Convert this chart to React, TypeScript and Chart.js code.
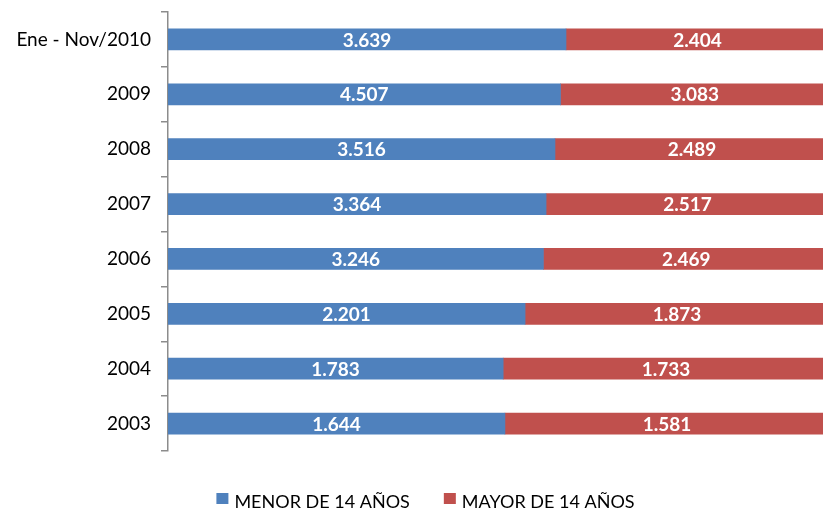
import React, { useEffect, useRef } from "react";
import { Chart, registerables } from "chart.js";

Chart.register(...registerables);

const categories = ["Ene - Nov/2010", "2009", "2008", "2007", "2006", "2005", "2004", "2003"];
const menor14 = [3639, 4507, 3516, 3364, 3246, 2201, 1783, 1644];
const mayor14 = [2404, 3083, 2489, 2517, 2469, 1873, 1733, 1581];
const seriesNames = ["MENOR DE 14 AÑOS", "MAYOR DE 14 AÑOS"];
const seriesColors = ["#4F81BD", "#C0504D"];

const FONT = "Lato, 'Open Sans', sans-serif";

const fmt = (v: number) => {
  const s = String(Math.round(v));
  return s.replace(/\B(?=(\d{3})+(?!\d))/g, ".");
};

const valueLabels = {
  id: "valueLabels",
  afterDatasetsDraw(chart: any) {
    const ctx = chart.ctx;
    ctx.save();
    ctx.fillStyle = "#ffffff";
    ctx.font = `bold 19px ${FONT}`;
    ctx.textAlign = "center";
    ctx.textBaseline = "middle";
    chart.data.datasets.forEach((ds: any, di: number) => {
      const meta = chart.getDatasetMeta(di);
      meta.data.forEach((el: any, i: number) => {
        const cx = (el.x + el.base) / 2;
        ctx.fillText(fmt(ds.raw[i]), cx, el.y + 1);
      });
    });
    ctx.restore();
  },
};

const customLegend = {
  id: "customLegend",
  afterDraw(chart: any) {
    const ctx = chart.ctx;
    ctx.save();
    ctx.font = `18px ${FONT}`;
    ctx.textBaseline = "alphabetic";
    ctx.textAlign = "left";
    const box = 12;
    const gapBoxText = 6;
    const gapItems = 34;
    const widths = seriesNames.map((n) => ctx.measureText(n).width);
    const total =
      widths.reduce((a, w) => a + box + gapBoxText + w, 0) + gapItems * (seriesNames.length - 1);
    let x = (chart.width - total) / 2 + 14;
    seriesNames.forEach((n, i) => {
      ctx.fillStyle = seriesColors[i];
      ctx.fillRect(x, 493, box, box - 1);
      ctx.fillStyle = "#000000";
      ctx.fillText(n, x + box + gapBoxText, 508);
      x += box + gapBoxText + widths[i] + gapItems;
    });
    ctx.restore();
  },
};

export default function App() {
  const ref = useRef<HTMLCanvasElement | null>(null);
  useEffect(() => {
    document.body.style.margin = "0";
    const totals = menor14.map((v, i) => v + mayor14[i]);
    const chart = new Chart(ref.current as HTMLCanvasElement, {
      type: "bar",
      data: {
        labels: categories,
        datasets: [
          {
            label: seriesNames[0],
            data: menor14.map((v, i) => v / totals[i]),
            raw: menor14,
            backgroundColor: seriesColors[0],
            barThickness: 21,
          } as any,
          {
            label: seriesNames[1],
            data: mayor14.map((v, i) => v / totals[i]),
            raw: mayor14,
            backgroundColor: seriesColors[1],
            barThickness: 21,
          } as any,
        ],
      },
      options: {
        indexAxis: "y",
        animation: false,
        responsive: false,
        layout: { padding: { top: 12, right: 0, left: 0, bottom: 58 } },
        scales: {
          x: {
            stacked: true,
            display: false,
            min: 0,
            max: 0.991,
          },
          y: {
            stacked: true,
            afterFit: (scale: any) => {
              scale.width = 168;
              scale.paddingTop = 0;
              scale.paddingBottom = 0;
            },
            border: { display: true, color: "#8C8C8C", width: 1.5 },
            grid: {
              offset: true,
              drawOnChartArea: false,
              drawTicks: true,
              tickLength: 7,
              color: "#8C8C8C",
              lineWidth: 1.5,
            },
            ticks: {
              padding: 10,
              color: "#000000",
              font: { family: FONT, size: 19 },
            },
          },
        },
        plugins: {
          legend: { display: false },
          tooltip: { enabled: false },
        },
      },
      plugins: [valueLabels, customLegend],
    });
    return () => chart.destroy();
  }, []);
  return (
    <div style={{ position: "absolute", left: 0, top: 0, width: 823, height: 509 }}>
      <canvas ref={ref} width={823} height={509} />
    </div>
  );
}
